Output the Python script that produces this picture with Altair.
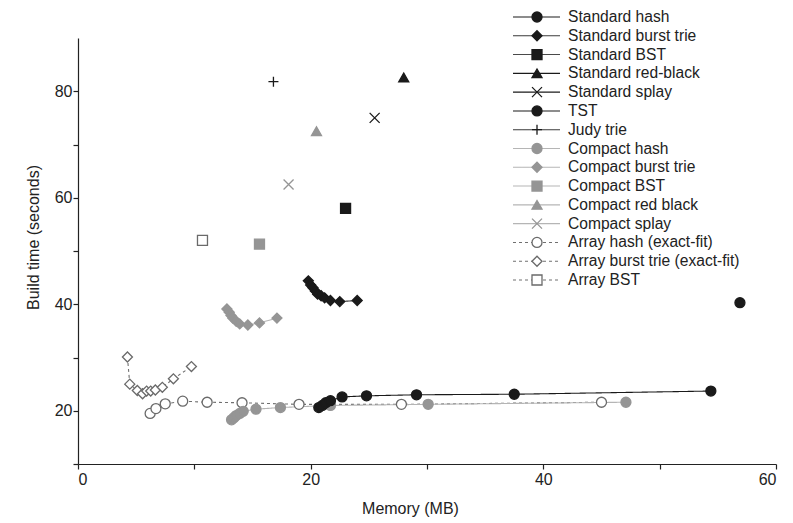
import altair as alt
import pandas as pd

FONT = "Liberation Sans"

series_names = [
    "Standard hash", "Standard burst trie", "Standard BST", "Standard red-black",
    "Standard splay", "TST", "Judy trie", "Compact hash", "Compact burst trie",
    "Compact BST", "Compact red black", "Compact splay", "Array hash (exact-fit)",
    "Array burst trie (exact-fit)", "Array BST",
]

# --- values (memory MB, build time s) ---
std_hash_x = [20.7, 21.0, 21.3, 21.7, 22.7, 24.8, 29.1, 37.5, 54.4]
std_hash_y = [20.6, 21.0, 21.5, 21.9, 22.6, 22.8, 23.0, 23.1, 23.7]
std_burst_x = [19.8, 20.0, 20.2, 20.4, 20.6, 20.9, 21.2, 21.7, 22.5, 24.0]
std_burst_y = [44.4, 43.6, 43.1, 42.5, 41.9, 41.6, 41.2, 40.7, 40.5, 40.7]
std_bst_x, std_bst_y = [23.0], [58.0]
std_rb_x, std_rb_y = [28.0], [82.6]
std_splay_x, std_splay_y = [25.5], [75.0]
tst_x, tst_y = [56.9], [40.3]
judy_x, judy_y = [16.8], [81.8]
cmp_hash_x = [13.2, 13.4, 13.6, 13.9, 14.2, 15.3, 17.4, 21.7, 30.1, 47.1]
cmp_hash_y = [18.3, 18.7, 19.1, 19.5, 19.9, 20.3, 20.6, 21.0, 21.2, 21.6]
cmp_burst_x = [12.8, 13.0, 13.15, 13.3, 13.6, 13.9, 14.6, 15.6, 17.1]
cmp_burst_y = [39.1, 38.5, 37.9, 37.4, 36.8, 36.3, 36.1, 36.5, 37.4]
cmp_bst_x, cmp_bst_y = [15.6], [51.3]
cmp_rb_x, cmp_rb_y = [20.5], [72.5]
cmp_splay_x, cmp_splay_y = [18.1], [62.5]
arr_hash_x = [6.2, 6.7, 7.5, 9.0, 11.1, 14.1, 19.0, 27.8, 45.0]
arr_hash_y = [19.5, 20.4, 21.3, 21.8, 21.6, 21.5, 21.2, 21.2, 21.6]
arr_burst_x = [4.25, 4.45, 5.1, 5.55, 5.9, 6.25, 6.65, 7.25, 8.2, 9.75]
arr_burst_y = [30.1, 25.0, 23.8, 23.2, 23.7, 23.7, 23.9, 24.4, 26.0, 28.3]
arr_bst_x, arr_bst_y = [10.7], [52.0]

series_xy = [
    (std_hash_x, std_hash_y), (std_burst_x, std_burst_y), (std_bst_x, std_bst_y),
    (std_rb_x, std_rb_y), (std_splay_x, std_splay_y), (tst_x, tst_y),
    (judy_x, judy_y), (cmp_hash_x, cmp_hash_y), (cmp_burst_x, cmp_burst_y),
    (cmp_bst_x, cmp_bst_y), (cmp_rb_x, cmp_rb_y), (cmp_splay_x, cmp_splay_y),
    (arr_hash_x, arr_hash_y), (arr_burst_x, arr_burst_y), (arr_bst_x, arr_bst_y),
]

# --- styles ---
DARK, GRAY, HOLLOW = "#1a1a1a", "#959595", "#6a6a6a"
XPATH = "M-1,-1L1,1M-1,1L1,-1"
PLUS = "M-1,0L1,0M0,-1L0,1"
shapes = ["circle", "diamond", "square", "triangle-up", XPATH, "circle", PLUS,
          "circle", "diamond", "square", "triangle-up", XPATH,
          "circle", "diamond", "square"]
strokes = [DARK] * 7 + [GRAY] * 5 + [HOLLOW] * 3
fills = [DARK, DARK, DARK, DARK, "transparent", DARK, "transparent",
         GRAY, GRAY, GRAY, GRAY, "transparent", "white", "white", "white"]
line_colors = [DARK, "#3a3a3a", "#4a4a4a", DARK, DARK, DARK, "#3a3a3a"] + ["#b5b5b5"] * 5 + ["#707070"] * 3
dashes = [[1, 0]] * 12 + [[3, 3]] * 3

rows = []
for name, (xs, ys) in zip(series_names, series_xy):
    for i, (xv, yv) in enumerate(zip(xs, ys)):
        rows.append({"series": name, "mem": xv, "time": yv, "idx": i})
df = pd.DataFrame(rows)
# draw order: arrays first, then compact, then standard on top
draw_rank = {n: (2 if n.startswith("Standard") or n in ("TST", "Judy trie") else 1 if n.startswith("Compact") else 0) for n in series_names}
df["rank"] = df["series"].map(draw_rank)
df = df.sort_values(["rank", "series", "idx"]).reset_index(drop=True)

leg = pd.DataFrame({"series": series_names, "row": list(range(len(series_names)))})

shape_sc = alt.Scale(domain=series_names, range=shapes)
stroke_sc = alt.Scale(domain=series_names, range=strokes)
fill_sc = alt.Scale(domain=series_names, range=fills)
dash_sc = alt.Scale(domain=series_names, range=dashes)
lcol = {n: c for n, c in zip(series_names, line_colors)}
df["lcol"] = df["series"].map(lcol)
leg["lcol"] = leg["series"].map(lcol)

xenc = alt.X("mem:Q", scale=alt.Scale(domain=[0, 60], nice=False),
             axis=alt.Axis(values=[0, 10, 20, 30, 40, 50, 60],
                           labelExpr="datum.value % 20 == 0 ? datum.label : ''",
                           title="Memory (MB)", grid=False, tickSize=5, labelPadding=2,
                           titleX=332, titleY=36, titleBaseline="top"))
yenc = alt.Y("time:Q", scale=alt.Scale(domain=[10, 90], nice=False, zero=False),
             axis=alt.Axis(values=[10, 20, 30, 40, 50, 60, 70, 80],
                           labelExpr="(datum.value % 20 == 0) ? datum.label : ''",
                           title="Build time (seconds)", grid=False, tickSize=5,
                           labelPadding=1,
                           titleX=-45, titleY=199, titleBaseline="middle"))

lines = alt.Chart(df).mark_line(strokeWidth=1.1).encode(
    x=xenc, y=yenc, detail="series:N", order="idx:Q",
    stroke=alt.Stroke("lcol:N", scale=None),
    strokeDash=alt.StrokeDash("series:N", scale=dash_sc, legend=None),
)
points = alt.Chart(df).mark_point(size=100, strokeWidth=1.3, opacity=1).encode(
    x="mem:Q", y="time:Q",
    shape=alt.Shape("series:N", scale=shape_sc, legend=None),
    stroke=alt.Stroke("series:N", scale=stroke_sc, legend=None),
    fill=alt.Fill("series:N", scale=fill_sc, legend=None),
)
data_layer = alt.layer(lines, points)

ly = alt.Y("row:Q", scale=alt.Scale(domain=[0, 14], range=[-21, 242]), axis=None)
leg_lines = alt.Chart(leg).mark_rule(strokeWidth=1.1).encode(
    x=alt.value(435), x2=alt.value(482), y=ly,
    stroke=alt.Stroke("lcol:N", scale=None),
    strokeDash=alt.StrokeDash("series:N", scale=dash_sc, legend=None),
)
leg_pts = alt.Chart(leg).mark_point(size=100, strokeWidth=1.3, opacity=1).encode(
    x=alt.value(459), y=ly,
    shape=alt.Shape("series:N", scale=shape_sc, legend=None),
    stroke=alt.Stroke("series:N", scale=stroke_sc, legend=None),
    fill=alt.Fill("series:N", scale=fill_sc, legend=None),
)
leg_txt = alt.Chart(leg).mark_text(align="left", baseline="middle", font=FONT,
                                   fontSize=15.6, color="#222").encode(
    x=alt.value(490), y=ly, text="series:N")
legend_layer = alt.layer(leg_lines, leg_pts, leg_txt)

chart = alt.layer(data_layer, legend_layer).resolve_scale(y="independent").properties(
    width=698, height=426,
    padding={"left": 78, "top": 38, "right": 17, "bottom": 59},
    autosize=alt.AutoSizeParams(type="none"),
).configure_view(stroke=None).configure_axis(
    labelFont=FONT, titleFont=FONT, labelFontSize=16, titleFontSize=16,
    labelColor="#222", titleColor="#222", domainColor="#222", tickColor="#222",
    titleFontWeight="normal", domainWidth=1.2, tickWidth=1.2,
)

chart.save("out.html", embed_options={"renderer": "svg", "actions": False})
